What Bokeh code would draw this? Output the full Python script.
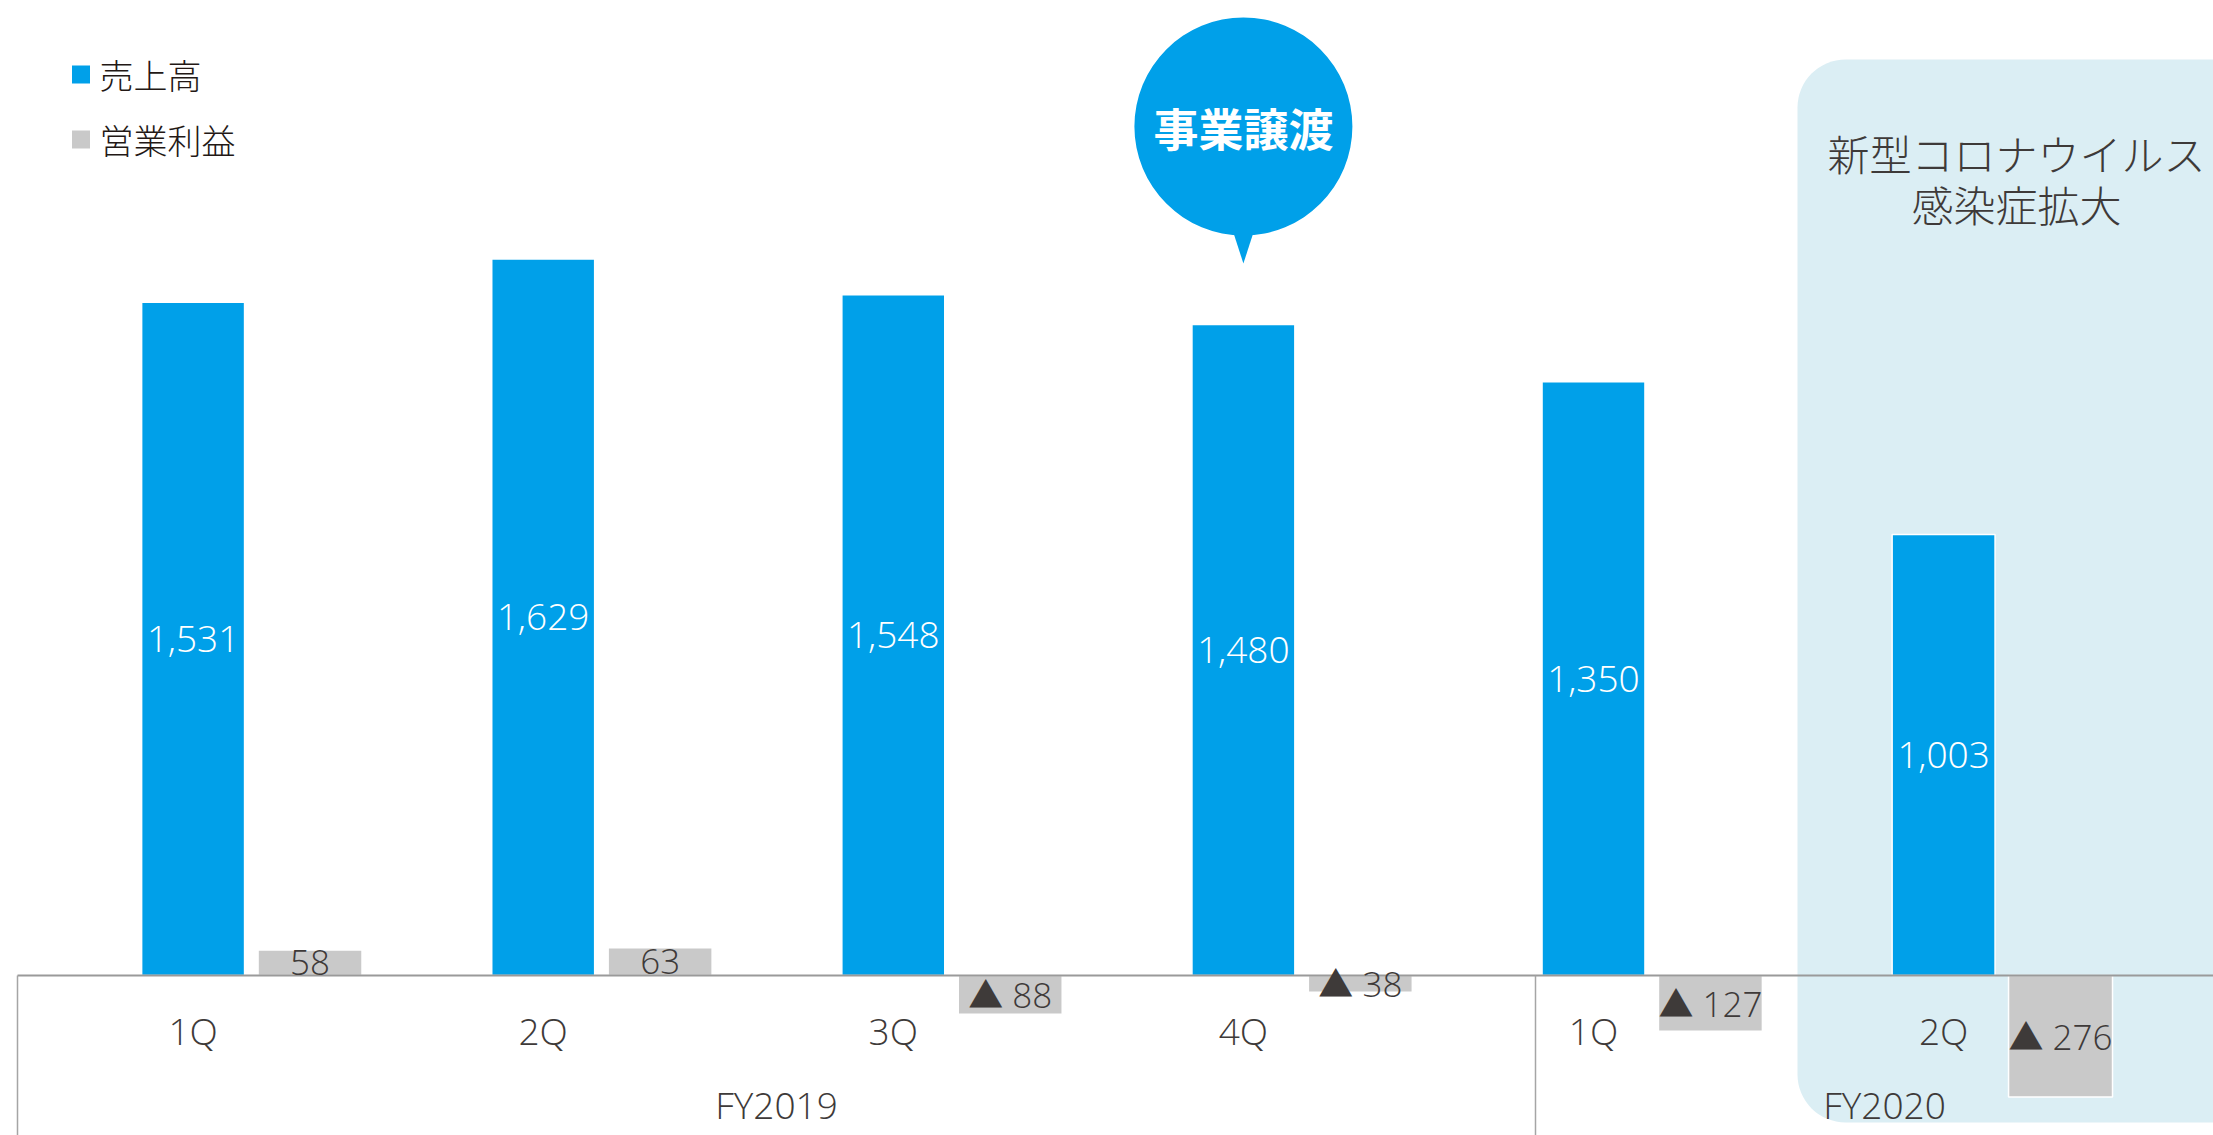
from bokeh.plotting import figure
from bokeh.models import Range1d, BoxAnnotation, ColumnDataSource
from bokeh.core.properties import value
from bokeh.embed import file_html
from bokeh.resources import INLINE

# ---------------- data ----------------
quarters = ["1Q", "2Q", "3Q", "4Q", "1Q", "2Q"]
fiscal_years = ["FY2019", "FY2020"]
sales = [1531, 1629, 1548, 1480, 1350, 1003]
operating_income = [58, 63, -88, -38, -127, -276]
legend_labels = ["売上高", "営業利益"]
bubble_text = "事業譲渡"
panel_lines = ["新型コロナウイルス", "感染症拡大"]

BLUE = "#00A0E9"
GREY = "#C9C9C9"
PANEL = "#DBEEF4"
TEXT = "#3E3A39"
JP = "'Noto Sans CJK JP Light', 'Noto Sans CJK JP'"
JP_BOLD = "Noto Sans CJK JP"
NUM = "'Open Sans Light', 'Open Sans', 'Noto Sans CJK JP'"

W, H = 2213, 1135
OFF = 0  # page offset of the figure
X0, XS = 192.6, 350.1      # page px of slot 0, px per slot
Y0, YS = 975.0, 0.4398     # page px of zero line, px per unit


def px2x(px):
    return (px - X0) / XS


def px2y(py):
    return (Y0 - py) / YS


p = figure(width=W, height=H, output_backend="svg", toolbar_location=None,
           x_range=Range1d(px2x(OFF), px2x(OFF + W)),
           y_range=Range1d(px2y(OFF + H), px2y(OFF)),
           min_border=0, outline_line_color=None, background_fill_color="white")
p.axis.visible = False
p.grid.visible = False

idx = list(range(len(quarters)))
grey_x = [i + 0.334 for i in idx]

# COVID panel
panel = BoxAnnotation(left=px2x(1797), right=px2x(2300), top=px2y(59), bottom=px2y(1122),
                      fill_color=PANEL, fill_alpha=1.0, line_color=None,
                      border_radius=48, level="underlay")
p.add_layout(panel)

src = ColumnDataSource(dict(
    x=idx, gx=grey_x, sales=sales, op=operating_income,
    sales_mid=[v / 2 for v in sales], op_mid=[v / 2 for v in operating_income],
    sales_lbl=[f"{v:,}" for v in sales],
    op_lbl=[f"{v}" if v >= 0 else f"▲ {abs(v)}" for v in operating_income],
    q=quarters,
))

p.vbar(x="x", top="sales", bottom=0, width=0.294, source=src,
       fill_color=BLUE, line_color="white", line_width=1.5)
p.vbar(x="gx", top="op", bottom=0, width=0.297, source=src,
       fill_color=GREY, line_color="white", line_width=1.5)

# axis lines
p.segment(x0=[px2x(17)], y0=[0], x1=[px2x(2300)], y1=[0], line_color="#9A9A9A", line_width=2)
p.segment(x0=[px2x(17), px2x(1535)], y0=[0, 0], x1=[px2x(17), px2x(1535)],
          y1=[px2y(1140), px2y(1140)], line_color="#A5A5A5", line_width=1.5)

# value labels
p.text(x="x", y="sales_mid", text="sales_lbl", source=src, text_color="white",
       text_font=value(NUM), text_font_size="37px", text_align="center",
       text_baseline="middle")
p.text(x="gx", y="op_mid", text="op_lbl", source=src, text_color=TEXT,
       text_font=value(NUM), text_font_size="35px", text_align="center",
       text_baseline="middle")

# category labels
p.text(x="x", y=px2y(1030), text="q", source=src, text_color=TEXT,
       text_font=value(NUM), text_font_size="37px", text_align="center",
       text_baseline="middle")
p.text(x=[px2x(776), px2x(1884)], y=[px2y(1104), px2y(1104)], text=fiscal_years,
       text_color=TEXT, text_font=value(NUM), text_font_size="37px",
       text_align="center", text_baseline="middle")

# legend
p.scatter(x=[px2x(80.5), px2x(80.5)], y=[px2y(74), px2y(139)], marker="square",
          size=18, fill_color=[BLUE, GREY], line_color=None)
p.text(x=[px2x(99), px2x(99)], y=[px2y(74), px2y(139)], text=legend_labels,
       text_color="#231815", text_font=value(JP), text_font_size="34px",
       text_align="left", text_baseline="middle")

# speech bubble at 4Q
bx = idx[3]
p.circle(x=[bx], y=[px2y(126)], radius=109, radius_units="screen",
         fill_color=BLUE, line_color=None)
p.patch(x=[bx + px2x(1231) - px2x(1243), bx + px2x(1255) - px2x(1243), bx],
        y=[px2y(226), px2y(226), px2y(263)], fill_color=BLUE, line_color=None)
p.text(x=[bx], y=[px2y(127)], text=[bubble_text], text_color="white",
       text_font=value(JP_BOLD), text_font_style="bold", text_font_size="45px",
       text_align="center", text_baseline="middle")

# panel text
p.text(x=[px2x(2016), px2x(2016)], y=[px2y(152), px2y(203)], text=panel_lines,
       text_color=TEXT, text_font=value(JP), text_font_size="42px",
       text_align="center", text_baseline="middle")

open("out.html", "w").write(file_html(p, INLINE))
